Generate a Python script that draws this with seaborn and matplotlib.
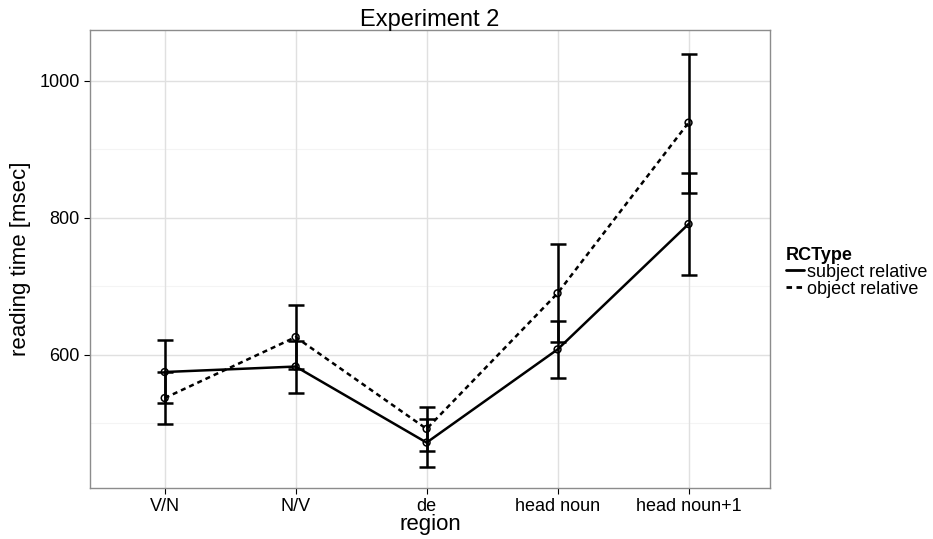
import numpy as np
import pandas as pd
import matplotlib
matplotlib.use("Agg")
import matplotlib.pyplot as plt
import seaborn as sns
from matplotlib.lines import Line2D

# ==========================================================
# Data
# ==========================================================

regions = ["V/N", "N/V", "de", "head noun", "head noun+1"]
rc_types = ["subject relative", "object relative"]

subj_mean = [575, 583, 472, 608, 791]
subj_lo = [530, 545, 437, 566, 716]
subj_hi = [622, 621, 507, 650, 866]

obj_mean = [537, 626, 492, 690, 939]
obj_lo = [499, 579, 460, 619, 837]
obj_hi = [575, 673, 524, 762, 1039]

df = pd.DataFrame({
    "region": regions * 2,
    "rt": subj_mean + obj_mean,
    "lo": subj_lo + obj_lo,
    "hi": subj_hi + obj_hi,
    "RCType": [rc_types[0]] * 5 + [rc_types[1]] * 5,
})
df["x"] = df["region"].map({r: i for i, r in enumerate(regions)})

# ==========================================================
# Plot
# ==========================================================

sns.set_style("white")
plt.rcParams["font.family"] = ["Liberation Sans", "DejaVu Sans"]
plt.rcParams["text.color"] = "black"
plt.rcParams["axes.labelcolor"] = "black"

fig = plt.figure(figsize=(9.33, 5.39), dpi=100)
ax = fig.add_axes([0.0965, 0.095, 0.7285, 0.849])

# grid like theme_bw
for v in [500, 700, 900]:
    ax.axhline(v, color="#f4f4f4", lw=0.8, zorder=0)
for v in [600, 800, 1000]:
    ax.axhline(v, color="#e0e0e0", lw=1.0, zorder=0)
for v in range(len(regions)):
    ax.axvline(v, color="#e0e0e0", lw=1.0, zorder=0)

sns.lineplot(
    data=df, x="x", y="rt", style="RCType",
    style_order=rc_types, dashes={rc_types[0]: "", rc_types[1]: (2, 1.6)},
    color="black", lw=1.8, legend=False, ax=ax, zorder=3,
)

for rc in rc_types:
    d = df[df["RCType"] == rc]
    ax.errorbar(
        d["x"], d["rt"],
        yerr=[d["rt"] - d["lo"], d["hi"] - d["rt"]],
        fmt="none", ecolor="black", elinewidth=1.8, capsize=6,
        capthick=1.8, zorder=4,
    )
    ax.scatter(d["x"], d["rt"], s=24, facecolors="none",
               edgecolors="black", linewidths=1.1, zorder=5)

ax.set_xlim(-0.57, 4.62)
ax.set_ylim(406, 1074)
ax.set_xticks(range(len(regions)))
ax.set_xticklabels(regions)
ax.set_yticks([600, 800, 1000])
ax.tick_params(axis="both", labelsize=13, colors="black", length=4,
               direction="out", bottom=True, left=True)

for s in ax.spines.values():
    s.set_color("#8c8c8c")
    s.set_linewidth(1)

ax.set_xlabel("region", fontsize=16, labelpad=-1)
ax.set_ylabel("reading time [msec]", fontsize=16, labelpad=6)
ax.set_title("Experiment 2", fontsize=17, pad=3)

# legend
handles = [
    Line2D([], [], color="black", lw=2, ls="-"),
    Line2D([], [], color="black", lw=2, ls=(0, (2, 1.6))),
]
leg = fig.legend(
    handles, rc_types, title="RCType", loc="center left",
    bbox_to_anchor=(0.833, 0.495), frameon=False, fontsize=13,
    title_fontproperties={"weight": "bold", "size": 13},
    handlelength=1.0, handletextpad=0.15, labelspacing=0.0,
    borderpad=0, alignment="left",
)

fig.savefig("out.png", dpi=100)
